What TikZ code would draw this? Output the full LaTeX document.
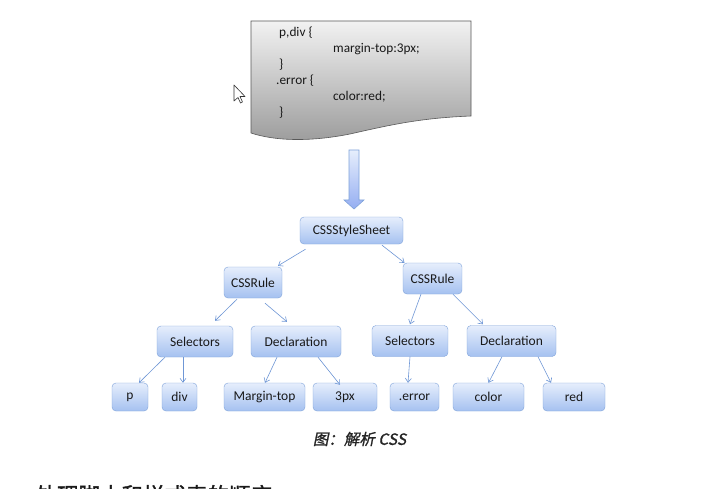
\documentclass[tikz,border=0pt]{standalone}
\usepackage{fontspec}
\setmainfont{Carlito}
\newfontfamily\cjk[FakeSlant=0.2,FakeBold=1.2]{Noto Sans CJK SC}
\newfontfamily\cjkbold[FakeBold=1.6]{Noto Sans CJK SC}
\usetikzlibrary{arrows.meta,
	calc,
	positioning}
\definecolor{boxtop}{HTML}{E6EEFC}
\definecolor{boxbot}{HTML}{A5C1F0}
\definecolor{boxline}{HTML}{7FA3DA}
\definecolor{linkc}{HTML}{6F97D6}
\definecolor{doctop}{HTML}{F2F2F2}
\definecolor{docbot}{HTML}{9C9C9C}
\tikzstyle{box}=[draw=boxline, rounded corners=4pt, top color=boxtop, bottom color=boxbot,
		minimum height=28pt, inner sep=0, text=black!90, font=\fontsize{13.5}{16}\selectfont]
\tikzstyle{link}=[draw=linkc, line width=0.6pt, -{Straight Barb[length=4pt,width=6pt]}]
\tikzstyle{doc}=[draw=black!65, line width=0.6pt, top color=doctop, bottom color=docbot]
\tikzstyle{code}=[anchor=west, inner sep=0, text=black!90, font=\fontsize{13.3}{16}\selectfont]
\tikzstyle{bigarrow}=[draw=boxline, line width=0.6pt, top color=boxtop, bottom color=boxbot!90!blue]

\begin{document}
\begin{tikzpicture}[x=1pt, y=-1pt]
        \useasboundingbox[fill=white] (0,0) rectangle (725,489);
        \draw[doc] (251,21) -- (471,21) -- (471,116) .. controls (420,118) and (390,125) .. (350,134)
            .. controls (310,142) and (275,141) .. (251,133) -- cycle;
        \node[code] (l1) at (279,33) {p,div \{};
        \node[code] (l2) at (333,49) {margin-top:3px;};
        \node[code] (l3) at (279,65) {\}};
        \node[code] (l4) at (276,81) {.error \{};
        \node[code] (l5) at (333,97) {color:red;};
        \node[code] (l6) at (279,113) {\}};
        \draw[fill=white, draw=black!80, line width=0.6pt, line join=round] (234,85) -- (234,101) -- (238,97.5)
            -- (240.5,103) -- (242.5,102) -- (240,96.5) -- (245,96.5) -- cycle;
        \draw[bigarrow] (349,150) -- (359,150) -- (359,200) -- (364,200) -- (354,209) -- (344,200) -- (349,200) -- cycle;
        \node[box, minimum width=103pt, minimum height=27pt] (sheet) at (351.5,230.5) {CSSStyleSheet};
        \node[box, minimum width=58pt, minimum height=31pt] (rulel) at (253,282.5) {CSSRule};
        \node[box, minimum width=59pt, minimum height=31pt] (ruler) at (432.5,278.5) {CSSRule};
        \node[box, minimum width=76pt, minimum height=31pt] (sell) at (195,341.5) {Selectors};
        \node[box, minimum width=90pt, minimum height=31pt] (decl) at (296,341.5) {Declaration};
        \node[box, minimum width=76pt, minimum height=31pt] (selr) at (410,341) {Selectors};
        \node[box, minimum width=89pt, minimum height=31pt] (decr) at (511.5,341) {Declaration};
        \node[box, minimum width=36pt] (p) at (130,397) {p};
        \node[box, minimum width=35pt] (div) at (179.5,397) {div};
        \node[box, minimum width=81pt] (margin) at (264.5,397) {Margin-top};
        \node[box, minimum width=64pt] (px) at (345,397) {3px};
        \node[box, minimum width=49pt] (error) at (414.5,397) {.error};
        \node[box, minimum width=71pt] (color) at (488.5,397) {color};
        \node[box, minimum width=62pt] (red) at (574,397) {red};
        \draw[link] ([xshift=-46pt,yshift=-5pt]sheet.south) -- ([xshift=25pt,yshift=1pt]rulel.north);
        \draw[link] ([xshift=30.5pt,yshift=-1pt]sheet.south) -- ([xshift=-28pt]ruler.north);
        \draw[link] ([xshift=-16pt,yshift=-1pt]rulel.south) -- ([xshift=20pt,yshift=5pt]sell.north);
        \draw[link] ([xshift=12pt,yshift=-5pt]rulel.south) -- ([xshift=-9pt,yshift=4pt]decl.north);
        \draw[link] ([xshift=-30pt]sell.south) -- ([xshift=9pt]p.north);
        \draw[link] ([xshift=-12pt]sell.south) -- ([xshift=3.5pt]div.north);
        \draw[link] ([xshift=-19pt]decl.south) -- ([xshift=0.5pt]margin.north);
        \draw[link] ([xshift=22pt]decl.south) -- ([xshift=-5pt,yshift=-2pt]px.north);
        \draw[link] ([xshift=-11.5pt]ruler.south) -- ([yshift=1pt]selr.north);
        \draw[link] ([xshift=20.5pt]ruler.south) -- ([xshift=-28.5pt,yshift=1pt]decr.north);
        \draw[link] (selr.south) -- ([xshift=-6.5pt]error.north);
        \draw[link] ([xshift=-9.5pt]decr.south) -- (color.north);
        \draw[link] ([xshift=26.5pt]decr.south) -- ([xshift=-23pt]red.north);
        \node[text=black!85, font=\cjk\fontsize{15.5}{18}\selectfont] (cap) at (359.5,439) {图：解析 CSS};
        \begin{scope}
            \clip (0,0) rectangle (725,489);
            \node[anchor=west, text=black!90, font=\cjkbold\fontsize{21.5}{24}\selectfont] (head) at (32,495) {处理脚本和样式表的顺序};
        \end{scope}
    \end{tikzpicture}
\end{document}
